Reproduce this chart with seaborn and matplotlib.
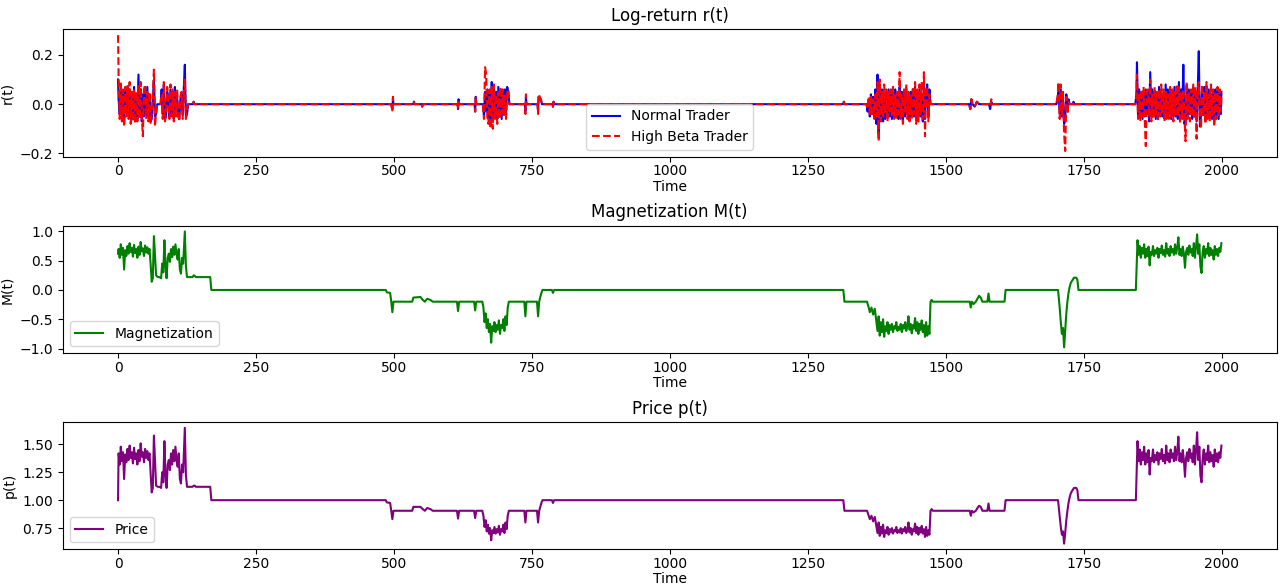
import numpy as np
import matplotlib
matplotlib.use("Agg")
import matplotlib.pyplot as plt
import seaborn as sns

# -------------------- DATA --------------------
# magnetization and price share one time grid
t_mag = [
    0, 1, 3, 5, 7, 9, 11, 13, 15, 17, 19, 21, 23, 25, 27, 29, 31, 33, 35, 37,
    39, 41, 43, 45, 47, 49, 51, 53, 55, 57, 59, 61, 63, 65, 67, 69, 72, 75, 78, 80,
    82, 84, 86, 88, 90, 92, 94, 96, 98, 100, 102, 104, 106, 108, 110, 112, 114, 116, 118, 121,
    123, 125, 135, 137, 139, 141, 167, 169,
    485, 487, 493, 495, 497, 499, 533, 535, 548, 552, 556, 560, 566, 570, 614, 616, 618, 645, 647, 649,
    660, 662, 664, 666, 668, 670, 672, 674, 676, 678, 680, 682, 684, 686, 688, 690, 692, 694, 696, 698,
    700, 702, 704, 706, 708, 736, 738, 740, 759, 761, 763, 765, 767, 769, 786, 788, 790,
    1314, 1316, 1357, 1360, 1362, 1365, 1368, 1371, 1374, 1376, 1378, 1380, 1382, 1384, 1386, 1388, 1390, 1392, 1394, 1396,
    1398, 1400, 1402, 1404, 1406, 1408, 1410, 1412, 1414, 1416, 1418, 1420, 1422, 1424, 1426, 1428, 1430, 1432, 1434, 1436,
    1438, 1440, 1442, 1444, 1446, 1448, 1450, 1452, 1454, 1456, 1458, 1460, 1462, 1464, 1466, 1468, 1470, 1472, 1474, 1476,
    1543, 1545, 1547, 1550, 1554, 1557, 1560, 1563, 1566, 1575, 1577, 1579, 1606, 1608,
    1703, 1706, 1708, 1710, 1712, 1714, 1716, 1718, 1720, 1722, 1724, 1726, 1728, 1732, 1736, 1738, 1740,
    1844, 1847, 1849, 1851, 1853, 1855, 1857, 1859, 1861, 1863, 1865, 1867, 1869, 1871, 1873, 1875, 1877, 1879, 1881, 1883,
    1885, 1887, 1889, 1891, 1893, 1895, 1897, 1899, 1901, 1903, 1905, 1907, 1909, 1911, 1913, 1915, 1917, 1919, 1921, 1923,
    1925, 1927, 1929, 1931, 1933, 1935, 1937, 1939, 1941, 1943, 1945, 1947, 1949, 1951, 1953, 1955, 1957, 1959, 1961, 1963,
    1965, 1967, 1969, 1971, 1973, 1975, 1977, 1979, 1981, 1983, 1985, 1987, 1989, 1991, 1993, 1995, 1997, 1999,
]

magnetization = [
    0.62, 0.70, 0.55, 0.78, 0.60, 0.72, 0.35, 0.68, 0.58, 0.75, 0.62, 0.80, 0.65, 0.72, 0.57, 0.77, 0.63, 0.70, 0.55, 0.74,
    0.60, 0.82, 0.66, 0.71, 0.58, 0.76, 0.64, 0.73, 0.62, 0.70, 0.45, 0.14, 0.20, 0.92, 0.60, 0.25, 0.22, 0.22, 0.20, 0.45,
    0.30, 0.85, 0.40, 0.20, 0.55, 0.62, 0.48, 0.70, 0.56, 0.74, 0.60, 0.78, 0.62, 0.52, 0.70, 0.35, 0.28, 0.55, 0.45, 1.00,
    0.40, 0.22, 0.22, 0.25, 0.24, 0.22, 0.22, 0.00,
    0.00, -0.04, -0.05, -0.20, -0.38, -0.20, -0.20, -0.13, -0.12, -0.17, -0.20, -0.15, -0.17, -0.20, -0.20, -0.36, -0.20, -0.20, -0.35, -0.20,
    -0.20, -0.30, -0.55, -0.40, -0.65, -0.50, -0.72, -0.58, -0.90, -0.62, -0.70, -0.55, -0.72, -0.60, -0.68, -0.52, -0.75, -0.60, -0.65, -0.50,
    -0.70, -0.45, -0.60, -0.30, -0.20, -0.20, -0.45, -0.20, -0.20, -0.45, -0.20, -0.12, -0.05, 0.00, 0.00, -0.05, 0.00,
    0.00, -0.20, -0.20, -0.30, -0.38, -0.30, -0.42, -0.32, -0.55, -0.70, -0.45, -0.78, -0.55, -0.72, -0.50, -0.80, -0.62, -0.70, -0.55, -0.75,
    -0.60, -0.68, -0.58, -0.72, -0.62, -0.66, -0.55, -0.70, -0.63, -0.68, -0.58, -0.72, -0.60, -0.66, -0.55, -0.70, -0.62, -0.45, -0.68, -0.58,
    -0.74, -0.60, -0.66, -0.48, -0.70, -0.55, -0.75, -0.58, -0.68, -0.52, -0.72, -0.60, -0.80, -0.55, -0.78, -0.62, -0.75, -0.20, -0.17, -0.20,
    -0.20, -0.30, -0.20, -0.24, -0.20, -0.15, -0.10, -0.13, -0.20, -0.20, -0.06, -0.20, -0.20, 0.00,
    0.00, -0.30, -0.55, -0.75, -0.65, -0.98, -0.70, -0.40, -0.20, -0.05, 0.05, 0.12, 0.15, 0.21, 0.21, 0.18, 0.00,
    0.00, 0.85, 0.60, 0.75, 0.55, 0.72, 0.62, 0.78, 0.55, 0.70, 0.58, 0.74, 0.42, 0.65, 0.60, 0.75, 0.58, 0.68, 0.62, 0.72,
    0.55, 0.70, 0.63, 0.76, 0.60, 0.68, 0.57, 0.80, 0.62, 0.70, 0.58, 0.75, 0.64, 0.70, 0.60, 0.78, 0.62, 0.72, 0.90, 0.60,
    0.70, 0.58, 0.74, 0.62, 0.38, 0.65, 0.72, 0.60, 0.76, 0.64, 0.70, 0.58, 0.80, 0.55, 0.74, 0.95, 0.62, 0.78, 0.40, 0.29,
    0.65, 0.75, 0.55, 0.70, 0.62, 0.80, 0.58, 0.72, 0.60, 0.68, 0.52, 0.75, 0.60, 0.70, 0.58, 0.72, 0.65, 0.80,
]

price = [
    1.00, 1.42, 1.32, 1.48, 1.35, 1.43, 1.19, 1.41, 1.34, 1.46, 1.36, 1.49, 1.38, 1.43, 1.33, 1.47, 1.37, 1.42, 1.32, 1.45,
    1.35, 1.51, 1.39, 1.43, 1.34, 1.46, 1.38, 1.44, 1.36, 1.42, 1.25, 1.07, 1.11, 1.58, 1.35, 1.13, 1.12, 1.12, 1.11, 1.25,
    1.16, 1.53, 1.22, 1.11, 1.32, 1.36, 1.27, 1.42, 1.32, 1.45, 1.35, 1.48, 1.36, 1.30, 1.42, 1.19, 1.15, 1.32, 1.25, 1.65,
    1.22, 1.12, 1.12, 1.13, 1.13, 1.12, 1.12, 1.00,
    1.00, 0.98, 0.975, 0.905, 0.83, 0.905, 0.905, 0.94, 0.94, 0.92, 0.905, 0.93, 0.92, 0.905, 0.905, 0.835, 0.905, 0.905, 0.84, 0.905,
    0.905, 0.86, 0.76, 0.82, 0.72, 0.78, 0.70, 0.75, 0.64, 0.73, 0.705, 0.76, 0.70, 0.74, 0.71, 0.77, 0.69, 0.74, 0.72, 0.78,
    0.705, 0.80, 0.74, 0.86, 0.905, 0.905, 0.80, 0.905, 0.905, 0.80, 0.905, 0.94, 0.975, 1.00, 1.00, 0.975, 1.00,
    1.00, 0.905, 0.905, 0.86, 0.83, 0.86, 0.81, 0.85, 0.76, 0.705, 0.80, 0.68, 0.76, 0.70, 0.78, 0.67, 0.73, 0.705, 0.76, 0.69,
    0.74, 0.71, 0.75, 0.70, 0.73, 0.72, 0.76, 0.705, 0.73, 0.71, 0.75, 0.70, 0.74, 0.72, 0.76, 0.705, 0.73, 0.80, 0.71, 0.75,
    0.69, 0.74, 0.72, 0.79, 0.705, 0.76, 0.69, 0.75, 0.71, 0.77, 0.70, 0.74, 0.67, 0.76, 0.68, 0.73, 0.69, 0.905, 0.92, 0.905,
    0.905, 0.86, 0.905, 0.89, 0.905, 0.93, 0.95, 0.94, 0.905, 0.905, 0.97, 0.905, 0.905, 1.00,
    1.00, 0.86, 0.76, 0.69, 0.72, 0.61, 0.705, 0.82, 0.905, 0.975, 1.025, 1.06, 1.08, 1.11, 1.11, 1.09, 1.00,
    1.00, 1.53, 1.35, 1.455, 1.32, 1.43, 1.36, 1.48, 1.32, 1.42, 1.34, 1.45, 1.23, 1.38, 1.35, 1.455, 1.34, 1.405, 1.36, 1.43,
    1.32, 1.42, 1.37, 1.46, 1.35, 1.405, 1.33, 1.49, 1.36, 1.42, 1.34, 1.455, 1.38, 1.42, 1.35, 1.48, 1.36, 1.43, 1.57, 1.35,
    1.42, 1.34, 1.45, 1.36, 1.21, 1.38, 1.43, 1.35, 1.46, 1.38, 1.42, 1.34, 1.49, 1.32, 1.45, 1.61, 1.36, 1.48, 1.22, 1.16,
    1.38, 1.455, 1.32, 1.42, 1.36, 1.49, 1.34, 1.43, 1.35, 1.405, 1.30, 1.455, 1.35, 1.42, 1.34, 1.43, 1.38, 1.49,
]

# log-returns, own time grid (zero between the bursts)
t_ret = [
    0, 1, 3, 5, 7, 9, 11, 13, 15, 17, 19, 21, 23, 25, 27, 29, 31, 33, 35, 37,
    39, 41, 43, 45, 47, 49, 51, 53, 55, 57, 59, 61, 63, 65, 67, 69, 71, 77, 79, 81,
    83, 85, 87, 89, 91, 93, 95, 97, 99, 101, 103, 105, 107, 109, 111, 113, 115, 117, 119, 121,
    123, 125, 127, 136, 137, 138,
    495, 497, 498, 499, 535, 536, 537, 550, 551, 552, 615, 616, 617, 618, 646, 647, 648, 649,
    661, 663, 665, 667, 669, 671, 673, 675, 677, 679, 681, 683, 685, 687, 689, 691, 693, 695, 697, 699,
    701, 703, 705, 707, 709, 737, 738, 739, 740, 760, 761, 762, 764, 766, 768, 787, 788, 789, 790,
    1314, 1315, 1316, 1356, 1358, 1360, 1362, 1364, 1366, 1368, 1370, 1372, 1374, 1376, 1378, 1380, 1382, 1384, 1386, 1388,
    1390, 1392, 1394, 1396, 1398, 1400, 1402, 1404, 1406, 1408, 1410, 1412, 1414, 1416, 1418, 1420, 1422, 1424, 1426, 1428,
    1430, 1432, 1434, 1436, 1438, 1440, 1442, 1444, 1446, 1448, 1450, 1452, 1454, 1456, 1458, 1460, 1462, 1464, 1466, 1468,
    1470, 1472,
    1542, 1544, 1546, 1548, 1552, 1556, 1560, 1578, 1580, 1582, 1584,
    1700, 1702, 1704, 1706, 1708, 1710, 1712, 1714, 1716, 1718, 1720, 1722, 1724, 1730, 1731, 1732,
    1843, 1845, 1846, 1848, 1850, 1852, 1854, 1856, 1858, 1860, 1862, 1864, 1866, 1868, 1870, 1872, 1874, 1876, 1878, 1880,
    1882, 1884, 1886, 1888, 1890, 1892, 1894, 1896, 1898, 1900, 1902, 1904, 1906, 1908, 1910, 1912, 1914, 1916, 1918, 1920,
    1922, 1924, 1926, 1928, 1930, 1932, 1934, 1936, 1938, 1940, 1942, 1944, 1946, 1948, 1950, 1952, 1954, 1956, 1958, 1960,
    1962, 1964, 1966, 1968, 1970, 1972, 1974, 1976, 1978, 1980, 1982, 1984, 1986, 1988, 1990, 1992, 1994, 1996, 1998, 1999,
]

r_normal = [
    0.10, 0.02, -0.04, 0.06, -0.05, 0.04, -0.08, 0.05, -0.03, 0.07, -0.05, 0.06, -0.06, 0.03, -0.06, 0.07, -0.05, 0.03, -0.06, 0.12,
    -0.05, 0.06, -0.07, 0.04, -0.05, 0.05, -0.04, 0.07, -0.05, 0.03, -0.07, -0.06, 0.02, 0.10, -0.05, -0.04, 0.00, 0.00, 0.06, -0.04,
    0.08, -0.06, -0.05, 0.05, 0.03, -0.05, 0.06, -0.04, 0.05, -0.06, 0.07, -0.03, 0.04, -0.05, -0.06, 0.02, 0.04, -0.03, 0.06, 0.16,
    -0.05, -0.04, 0.00, 0.00, 0.01, 0.00,
    0.00, -0.02, 0.02, 0.00, 0.00, 0.01, 0.00, 0.00, -0.01, 0.00, 0.00, -0.02, 0.02, 0.00, 0.00, -0.03, 0.03, 0.00,
    0.00, -0.05, 0.05, -0.03, 0.06, -0.06, 0.04, -0.08, 0.09, -0.05, 0.06, -0.04, 0.05, -0.06, 0.07, -0.05, 0.04, -0.06, 0.05, -0.03,
    0.06, -0.04, 0.07, 0.05, 0.00, 0.00, -0.03, 0.03, 0.00, 0.00, -0.03, 0.03, 0.02, 0.02, 0.00, 0.00, -0.01, 0.01, 0.00,
    0.00, 0.01, 0.00, 0.00, -0.03, 0.02, -0.05, 0.04, -0.03, 0.03, -0.05, 0.06, -0.08, 0.12, -0.12, 0.07, -0.05, 0.06, -0.07, 0.04,
    -0.06, 0.05, -0.04, 0.06, -0.05, 0.04, -0.06, 0.05, -0.03, 0.06, -0.05, 0.04, -0.06, 0.07, -0.04, 0.05, -0.07, 0.04, -0.05, 0.06,
    -0.04, 0.03, -0.06, 0.05, -0.04, 0.06, -0.05, 0.07, -0.06, 0.05, -0.04, 0.06, -0.05, 0.04, -0.07, 0.08, -0.06, 0.05, 0.08, -0.05,
    0.06, 0.00,
    0.00, -0.02, 0.02, 0.00, -0.01, 0.01, 0.00, 0.00, -0.02, 0.01, 0.00,
    0.00, 0.02, 0.05, -0.04, 0.06, -0.05, 0.03, -0.08, -0.06, 0.04, -0.02, 0.02, 0.00, 0.00, 0.01, 0.00,
    0.00, 0.04, 0.17, -0.05, 0.06, -0.04, 0.05, -0.06, 0.04, -0.05, 0.06, -0.04, 0.05, -0.07, 0.13, -0.05, 0.06, -0.04, 0.05, -0.06,
    0.04, -0.05, 0.07, -0.04, 0.06, -0.05, 0.04, -0.06, 0.08, -0.05, 0.06, -0.04, 0.05, -0.06, 0.05, -0.04, 0.07, -0.05, 0.05, -0.06,
    0.09, -0.05, 0.06, -0.04, 0.16, -0.08, -0.06, 0.07, -0.05, 0.06, -0.04, 0.05, -0.06, 0.07, -0.05, 0.04, -0.07, 0.05, 0.215, -0.09,
    -0.05, 0.06, -0.04, 0.07, -0.06, 0.05, -0.04, 0.06, -0.05, 0.04, -0.06, 0.05, -0.07, 0.06, -0.04, 0.05, -0.06, 0.04, -0.04, 0.05,
]

r_beta = [
    0.28, 0.12, -0.06, 0.09, -0.07, 0.06, -0.09, 0.07, -0.05, 0.08, -0.06, 0.09, -0.08, 0.05, -0.07, 0.06, -0.08, 0.05, -0.07, 0.08,
    -0.06, 0.09, -0.05, -0.13, 0.06, 0.08, -0.06, 0.05, -0.07, 0.05, -0.08, -0.04, 0.04, 0.14, -0.09, -0.03, 0.00, 0.00, 0.04, -0.06,
    0.09, -0.07, -0.04, 0.07, 0.02, -0.06, 0.08, -0.05, 0.06, -0.07, 0.05, -0.05, 0.06, -0.04, -0.07, 0.03, 0.05, -0.06, 0.04, 0.10,
    -0.06, -0.02, 0.00, 0.00, 0.01, 0.00,
    0.00, -0.03, 0.03, 0.00, 0.00, 0.01, 0.00, 0.00, -0.01, 0.00, 0.00, -0.02, 0.02, 0.00, 0.00, -0.03, 0.03, 0.00,
    0.00, -0.06, 0.15, 0.12, -0.05, -0.08, 0.06, -0.10, 0.07, -0.10, 0.08, -0.06, 0.04, -0.08, 0.05, -0.06, 0.07, -0.04, 0.06, -0.05,
    0.04, -0.06, 0.05, 0.06, 0.00, 0.00, -0.04, 0.04, 0.00, 0.00, -0.04, 0.04, 0.03, 0.02, 0.00, 0.00, -0.01, 0.01, 0.00,
    0.00, 0.01, 0.00, 0.00, -0.02, 0.03, -0.04, 0.03, -0.05, 0.02, -0.06, 0.04, -0.05, 0.09, -0.15, 0.10, -0.07, 0.05, -0.05, 0.08,
    -0.04, 0.06, -0.07, 0.05, -0.03, 0.06, -0.05, 0.07, -0.06, 0.04, -0.06, 0.05, -0.04, 0.13, -0.06, 0.04, -0.08, 0.06, -0.03, 0.08,
    -0.06, 0.05, -0.07, 0.04, -0.06, 0.07, -0.04, 0.09, -0.08, 0.06, -0.07, 0.08, -0.04, 0.09, -0.06, 0.13, -0.13, 0.07, 0.06, -0.07,
    0.04, 0.00,
    0.00, -0.02, 0.02, 0.00, -0.01, 0.01, 0.00, 0.00, -0.01, 0.02, 0.00,
    0.00, 0.03, 0.09, -0.06, 0.08, -0.04, 0.05, -0.12, -0.19, 0.03, -0.04, 0.01, 0.00, 0.00, 0.01, 0.00,
    0.00, 0.03, 0.12, -0.06, 0.04, -0.07, 0.06, -0.05, 0.07, -0.06, -0.17, 0.05, 0.06, -0.05, 0.10, -0.07, 0.04, -0.06, 0.07, -0.04,
    0.05, -0.07, 0.06, -0.05, 0.08, -0.04, 0.06, -0.07, 0.05, -0.06, 0.04, -0.06, 0.07, -0.05, 0.06, -0.07, 0.05, -0.04, 0.08, -0.05,
    0.07, -0.08, 0.05, -0.06, 0.06, -0.05, -0.15, 0.09, -0.06, 0.05, -0.07, 0.06, -0.05, 0.08, -0.06, 0.07, -0.14, 0.06, 0.09, -0.06,
    -0.10, 0.08, -0.05, 0.05, -0.08, 0.09, -0.06, 0.04, -0.07, 0.08, -0.05, 0.06, -0.09, 0.05, -0.06, 0.07, -0.05, 0.06, -0.03, 0.04,
]

# tick values seen on the reference axes
r_ticks = [-0.2, 0.0, 0.2]
m_ticks = [-1.0, -0.5, 0.0, 0.5, 1.0]
p_ticks = [0.75, 1.00, 1.25, 1.50]

# -------------------- PLOT --------------------
fig, axes = plt.subplots(3, 1, figsize=(12.83, 5.87), dpi=100)
fig.subplots_adjust(left=0.049, right=0.995, top=0.95, bottom=0.064, hspace=0.54)

ax = axes[0]
sns.lineplot(x=t_ret, y=r_normal, ax=ax, color="blue", label="Normal Trader")
sns.lineplot(x=t_ret, y=r_beta, ax=ax, color="red", linestyle="--", label="High Beta Trader")
ax.set_title("Log-return r(t)")
ax.set_ylabel("r(t)")
ax.set_yticks(r_ticks)
ax.legend(loc="lower center")

ax = axes[1]
sns.lineplot(x=t_mag, y=magnetization, ax=ax, color="green", label="Magnetization")
ax.set_title("Magnetization M(t)")
ax.set_ylabel("M(t)")
ax.set_yticks(m_ticks)
ax.legend(loc="lower left")

ax = axes[2]
sns.lineplot(x=t_mag, y=price, ax=ax, color="purple", label="Price")
ax.set_title("Price p(t)")
ax.set_ylabel("p(t)")
ax.set_yticks(p_ticks)
ax.legend(loc="lower left")

for ax in axes:
    ax.set_xlabel("Time", labelpad=1)
    ax.tick_params(axis="x", pad=2)

plt.savefig("out.png")
plt.close()
